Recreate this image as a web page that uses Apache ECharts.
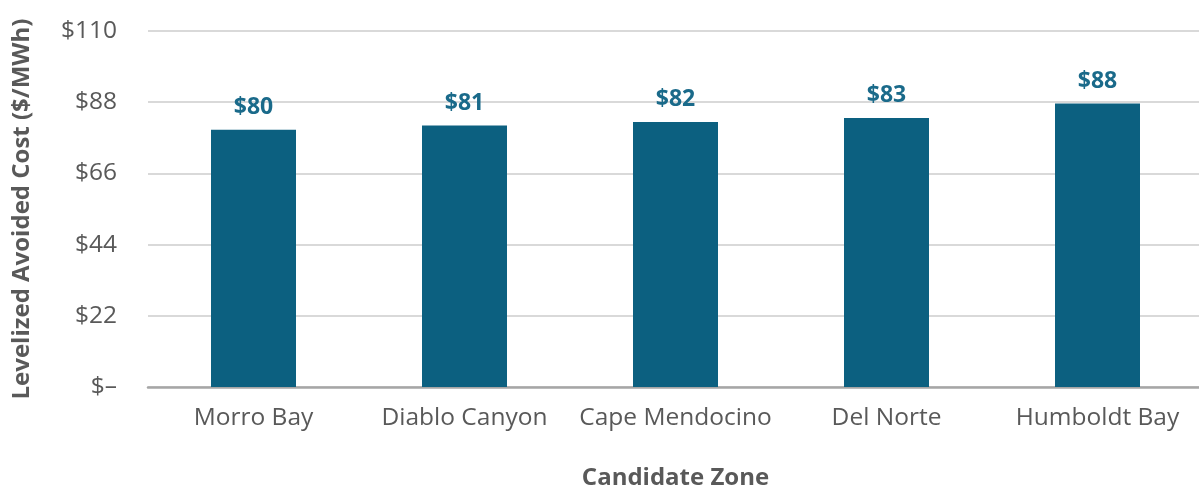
<!DOCTYPE html>
<html>
<head>
<meta charset="utf-8">
<script src="https://cdn.jsdelivr.net/npm/echarts@6/dist/echarts.min.js"></script>
<style>
  html, body { margin: 0; padding: 0; background: #fff; }
  #chart { width: 1199px; height: 489px; }
</style>
</head>
<body>
<div id="chart"></div>
<script>
// candidate zones and levelized avoided cost ($/MWh)
var zones = ['Morro Bay', 'Diablo Canyon', 'Cape Mendocino', 'Del Norte', 'Humboldt Bay'];
var costs = [79.5, 80.8, 81.9, 83.1, 87.6];
var yTicks = [0, 22, 44, 66, 88, 110];

var font = 'Open Sans, Noto Sans, sans-serif';
var myChart = echarts.init(document.getElementById('chart'));

myChart.setOption({
  animation: false,
  grid: { left: 148, right: -4, top: 31, bottom: 102, outerBoundsMode: 'none' },
  xAxis: {
    type: 'category',
    data: zones,
    name: 'Candidate Zone',
    nameLocation: 'middle',
    nameGap: 79,
    nameTextStyle: { fontFamily: font, fontSize: 24, fontWeight: 'bold', color: '#595959' },
    axisLine: { lineStyle: { color: '#a6a6a6', width: 2.5 } },
    axisTick: { show: false },
    axisLabel: { interval: 0, fontFamily: font, fontSize: 24.5, color: '#595959', margin: 19 }
  },
  yAxis: {
    type: 'value',
    min: yTicks[0],
    max: yTicks[yTicks.length - 1],
    interval: 22,
    name: 'Levelized Avoided Cost ($/MWh)',
    nameLocation: 'middle',
    nameGap: 114,
    nameTextStyle: { fontFamily: font, fontSize: 24, fontWeight: 'bold', color: '#595959' },
    axisLine: { show: false },
    axisTick: { show: false },
    splitLine: { lineStyle: { color: '#d9d9d9', width: 2 } },
    axisLabel: {
      fontFamily: font, fontSize: 24.5, color: '#595959', margin: 31,
      formatter: function (v) { return v === 0 ? '$\u2013' : '$' + v; }
    }
  },
  series: [{
    type: 'bar',
    data: costs,
    barWidth: 85,
    itemStyle: { color: '#0c6080' },
    label: {
      show: true,
      position: 'top',
      distance: 11,
      fontFamily: font,
      fontSize: 23,
      fontWeight: 'bold',
      color: '#1a6a8a',
      formatter: function (p) { return '$' + Math.round(p.value); }
    }
  }]
});
</script>
</body>
</html>
